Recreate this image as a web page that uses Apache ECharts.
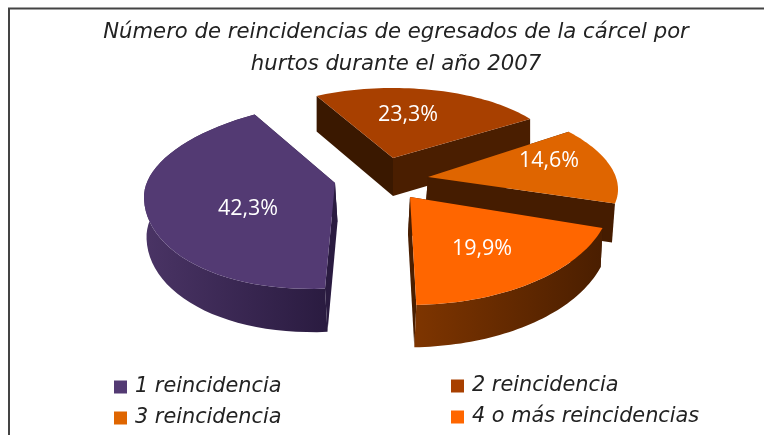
<!DOCTYPE html>
<html><head><meta charset="utf-8">
<style>html,body{margin:0;padding:0;background:#fff}#c{width:764px;height:435px}</style>
<script src="https://cdn.jsdelivr.net/npm/echarts@6/dist/echarts.min.js"></script>
</head><body><div id="c"></div>
<script>
const categories = ['1 reincidencia','2 reincidencia','3 reincidencia','4 o más reincidencias'];
const values = [42.3, 23.3, 14.6, 19.9];
const topColors = ['#533a73','#a84000','#df6500','#ff6600'];
const titleLines = ['Número de reincidencias de egresados de la cárcel por','hurtos durante el año 2007'];

// Perspective layout of each slice (apex, radii, shear, extrusion, angle offset)
const startAngle = 185;
const persp = 0.04;
const layout = [
  {cx:335,cy:183,rx:191,ryUp:82,ryDown:105,k:-0.073,depth:39,skew:2.5,shift:-2,lx:-87,ly:26,wall:['#4a3465','#2a1b40'],cut:'#2a1b40',cut2:'#2a1b40'},
  {cx:393,cy:158,rx:165,ryUp:70,ryDown:70,k:0,depth:38,skew:0,shift:-4.7,lx:15,ly:-43,wall:null,cut:'#3a1800',cut2:'#4a1e00'},
  {cx:428,cy:177,rx:190,ryUp:81,ryDown:81,k:0.065,depth:38,skew:-3,shift:-13.2,lx:121,ly:-16,wall:null,cut:'#4a1e00',cut2:'#451c00'},
  {cx:410,cy:197,rx:201,ryUp:108,ryDown:108,k:0,depth:38,skew:-2,shift:-6.8,lx:72,ly:52,wall:['#7e3500','#4a1e00'],cut:'#3a1800',cut2:'#4a1e00'}
];
const total = values.reduce((a,b)=>a+b,0);
const spans = values.map(v=>v/total*360);
const starts = spans.map((_,i)=>startAngle+spans.slice(0,i).reduce((a,b)=>a+b,0)+layout[i].shift);
const drawOrder = [1,2,0,3];

function pt(L,deg){
  const t=deg*Math.PI/180, c=Math.cos(t), x=L.rx*Math.sin(t);
  return [L.cx+x, L.cy-(c>=0?L.ryUp:L.ryDown)*c+L.k*x];
}
function renderSlice(i){
  return function(params,api){
    const L=layout[i], a0=starts[i], a1=a0+spans[i], arc=[], n=48;
    for(let s=0;s<=n;s++) arc.push(pt(L,a0+(a1-a0)*s/n));
    const d=p=>[p[0]+L.skew,p[1]+L.depth+persp*(p[1]-L.cy)], A=[L.cx,L.cy];
    const first=arc[0], last=arc[n];
    const lower=arc.map(d).reverse();
    const poly=(points,fill)=>({type:'polygon',shape:{points},style:{fill}});
    const label=values[i].toFixed(1).replace('.',',')+'%';
    const children=[
      poly([A,first,d(first),d(A)],L.cut),
      poly([A,last,d(last),d(A)],L.cut2)
    ];
    if(L.wall) children.push(poly(arc.concat(lower),{type:'linear',x:0,y:0,x2:1,y2:0,colorStops:[{offset:0,color:L.wall[0]},{offset:1,color:L.wall[1]}]}));
    children.push(
      poly([A].concat(arc),topColors[i]),
      {type:'text',x:L.cx+L.lx,y:L.cy+L.ly,style:{text:label,fill:'#fff',font:'21.5px "Open Sans"',align:'center',verticalAlign:'middle'}}
    );
    return {type:'group',children};
  };
}
const legendBase={orient:'vertical',itemWidth:13,itemHeight:13,itemGap:3,icon:'rect',selectedMode:false,
  textStyle:{fontFamily:'DejaVu Sans',fontStyle:'italic',fontSize:20.8,color:'#222',lineHeight:20,padding:[8,0,0,3]},padding:0};
const chart=echarts.init(document.getElementById('c'),null,{renderer:'canvas'});
chart.setOption({
  animation:false,
  title:titleLines.map((t,i)=>({text:t,left:396,top:22+i*32,textAlign:'center',padding:0,
    textStyle:{fontFamily:'DejaVu Sans',fontStyle:'italic',fontWeight:'normal',fontSize:21.2,color:'#222'}})),
  legend:[
    Object.assign({},legendBase,{left:114,top:373,data:[categories[0],categories[2]]}),
    Object.assign({},legendBase,{left:451,top:372,data:[categories[1],categories[3]]})
  ],
  graphic:[{type:'polyline',silent:true,shape:{points:[[9,435],[9,8.5],[764,8.5]]},style:{stroke:'#444',lineWidth:2,fill:'none'}}],
  series:drawOrder.map(i=>({type:'custom',name:categories[i],coordinateSystem:'none',
    itemStyle:{color:topColors[i]},data:[values[i]],renderItem:renderSlice(i)}))
});
</script></body></html>
